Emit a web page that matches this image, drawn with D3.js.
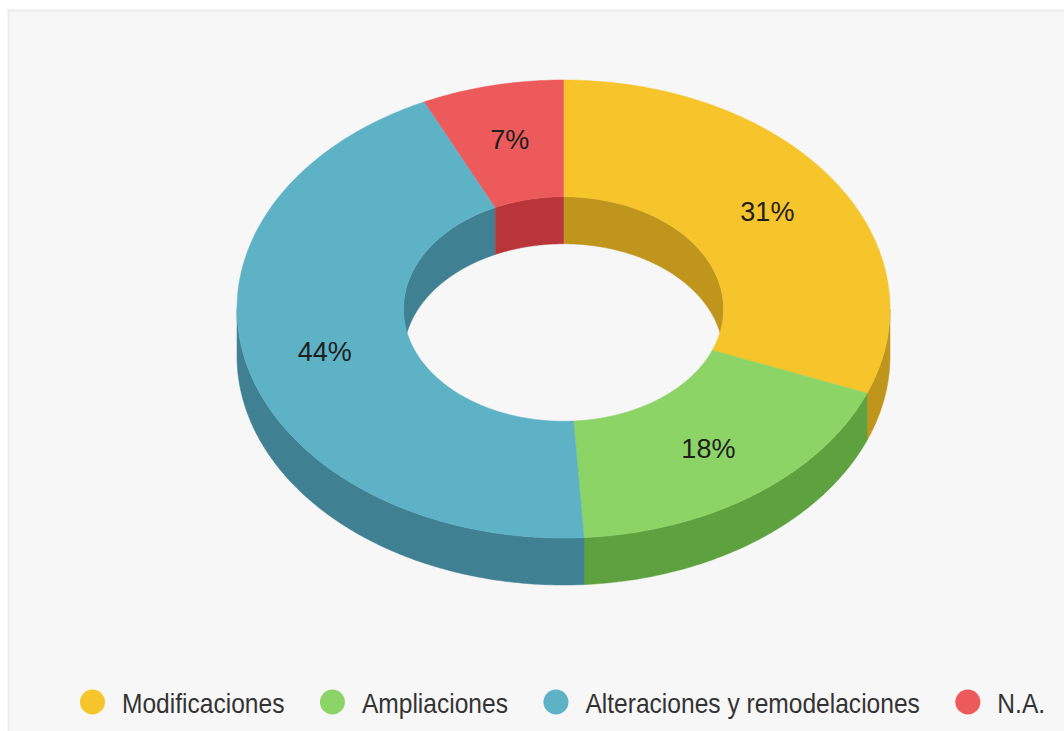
<!DOCTYPE html>
<html><head><meta charset="utf-8">
<script src="https://cdn.jsdelivr.net/npm/d3@7"></script>
<style>html,body{margin:0;padding:0;background:#fff;}svg{display:block;}</style>
</head><body>
<svg id="c" width="1064" height="731"></svg>
<script>
const categories = ["Modificaciones", "Ampliaciones", "Alteraciones y remodelaciones", "N.A."];
const values = [31, 18, 44, 7];
const topColors = ["#F6C42B", "#8DD467", "#5EB2C6", "#ED5A5B"];
const sideColors = ["#BF951C", "#5DA23E", "#3F8192", "#B9353A"];
const labels = ["31%", "18%", "44%", "7%"];

const W = 1064, H = 731;
const svg = d3.select("#c");

// panel
svg.append("rect").attr("x", 8.5).attr("y", 10.5).attr("width", W).attr("height", H)
  .attr("fill", "#f7f7f7").attr("stroke", "#ececec").attr("stroke-width", 2);

const cx = 563.5, cy = 309, rx = 326.5, ry = 229, innerK = 0.49, depth = 47;
const TAU = Math.PI * 2;

const pie = d3.pie().sort(null).startAngle(0).endAngle(TAU).value(d => d);
const arcs = pie(values);

function pt(a, k, dy) {
  return [cx + rx * k * Math.sin(a), cy - ry * k * Math.cos(a) + dy];
}
function arcPts(a0, a1, k, dy) {
  const n = Math.max(2, Math.ceil(Math.abs(a1 - a0) / 0.01));
  const out = [];
  for (let i = 0; i <= n; i++) out.push(pt(a0 + (a1 - a0) * i / n, k, dy));
  return out;
}
const line = d3.line().curve(d3.curveLinear);
function poly(points) { return line(points) + "Z"; }

const g = svg.append("g");

// inner walls (back half of hole)
const backRanges = [[0, Math.PI / 2], [3 * Math.PI / 2, TAU]];
arcs.forEach((d, i) => {
  backRanges.forEach(([r0, r1]) => {
    const s = Math.max(d.startAngle, r0), e = Math.min(d.endAngle, r1);
    if (s < e) {
      const p = arcPts(s, e, innerK, 0).concat(arcPts(e, s, innerK, depth));
      g.append("path").attr("d", poly(p)).attr("fill", sideColors[i]).attr("stroke", sideColors[i]).attr("stroke-width", 0.5);
    }
  });
});

// outer side walls (front half)
arcs.forEach((d, i) => {
  const s = Math.max(d.startAngle, Math.PI / 2), e = Math.min(d.endAngle, 3 * Math.PI / 2);
  if (s < e) {
    const p = arcPts(s, e, 1, 0).concat(arcPts(e, s, 1, depth));
    g.append("path").attr("d", poly(p)).attr("fill", sideColors[i]).attr("stroke", sideColors[i]).attr("stroke-width", 0.5);
  }
});

// top faces
arcs.forEach((d, i) => {
  const p = arcPts(d.startAngle, d.endAngle, 1, 0).concat(arcPts(d.endAngle, d.startAngle, innerK, 0));
  g.append("path").attr("d", poly(p)).attr("fill", topColors[i]).attr("stroke", topColors[i]).attr("stroke-width", 0.5);
});

// labels
const labelK = 0.755;
arcs.forEach((d, i) => {
  const m = (d.startAngle + d.endAngle) / 2;
  const [x, y] = pt(m, labelK, 0);
  svg.append("text").attr("x", x).attr("y", y).attr("text-anchor", "middle")
    .attr("dominant-baseline", "central")
    .attr("font-family", "Liberation Sans, Arial, sans-serif").attr("font-size", 27)
    .attr("fill", "#1e1e1e").text(labels[i]);
});

// legend
const legY = 702, sx = 0.91;
let xPos = 92.5;
categories.forEach((c, i) => {
  svg.append("circle").attr("cx", xPos).attr("cy", legY).attr("r", 12.5).attr("fill", topColors[i]);
  const t = svg.append("text").attr("transform", `translate(${xPos + 29.5},${legY + 11}) scale(${sx},1)`)
    .attr("font-family", "Liberation Sans, Arial, sans-serif").attr("font-size", 27)
    .attr("fill", "#333").text(c);
  const w = t.node().getComputedTextLength() * sx;
  xPos = xPos + 29.5 + w + 48;
});
</script>
</body></html>
